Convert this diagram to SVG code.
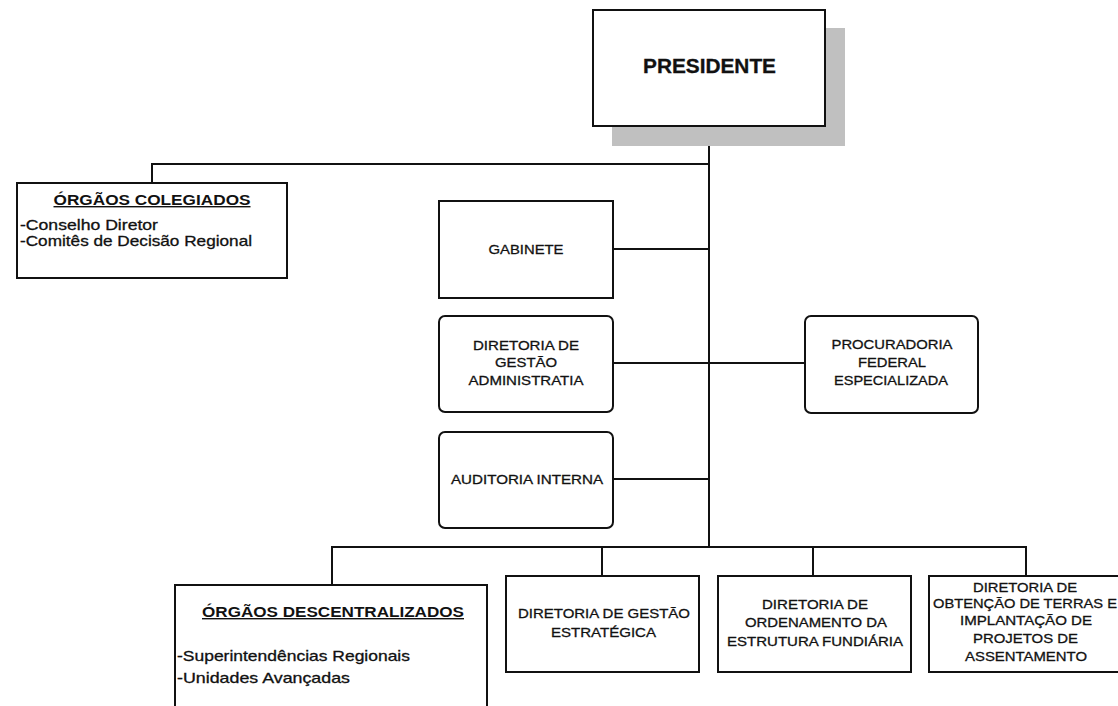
<svg xmlns="http://www.w3.org/2000/svg" width="1118" height="706" viewBox="0 0 1118 706">
<style>
.box{fill:#fff;stroke:#111;stroke-width:2}
.ln{fill:none;stroke:#111;stroke-width:2}
text{font-family:"Liberation Sans",Arial,sans-serif;fill:#111;stroke:#111;stroke-width:0.3}
.t{font-size:13.5px;text-anchor:middle}
.h{font-size:14px;font-weight:bold;text-anchor:middle;text-decoration:underline;stroke-width:0}
.l{font-size:14.5px}
</style>
<rect width="1118" height="706" fill="#fff"/>
<g id="connectors">
<path class="ln" d="M709 146V547M152 183V164H709M613 249H709M613 363H805M613 479H709M332 585V547H1026V576M602 547V576M813 547V576"/>
</g>
<g id="presidente">
<rect x="612" y="28" width="233" height="118" fill="#c0c0c0"/>
<rect class="box" x="593" y="10" width="232" height="116"/>
<text x="709.5" y="73" font-size="20" font-weight="bold" text-anchor="middle" stroke-width="0" textLength="133" lengthAdjust="spacingAndGlyphs">PRESIDENTE</text>
</g>
<g id="orgaos-colegiados">
<rect class="box" x="17" y="183" width="270" height="95"/>
<text class="h" x="152" y="205" textLength="197" lengthAdjust="spacingAndGlyphs">ÓRGÃOS COLEGIADOS</text>
<text class="l" x="20" y="230" textLength="138" lengthAdjust="spacingAndGlyphs">-Conselho Diretor</text>
<text class="l" x="20" y="246" textLength="232" lengthAdjust="spacingAndGlyphs">-Comitês de Decisão Regional</text>
</g>
<g id="gabinete">
<rect class="box" x="439" y="201" width="174" height="97"/>
<text class="t" x="526" y="254" textLength="75" lengthAdjust="spacingAndGlyphs">GABINETE</text>
</g>
<g id="diretoria-gestao-administrativa">
<rect class="box" x="439" y="316" width="174" height="96" rx="6"/>
<text class="t" x="526" y="350" textLength="106" lengthAdjust="spacingAndGlyphs">DIRETORIA DE</text>
<text class="t" x="526" y="367" textLength="62" lengthAdjust="spacingAndGlyphs">GESTÃO</text>
<text class="t" x="526" y="385" textLength="115" lengthAdjust="spacingAndGlyphs">ADMINISTRATIA</text>
</g>
<g id="auditoria-interna">
<rect class="box" x="439" y="432" width="174" height="96" rx="6"/>
<text class="t" x="527" y="484" textLength="152" lengthAdjust="spacingAndGlyphs">AUDITORIA INTERNA</text>
</g>
<g id="procuradoria">
<rect class="box" x="805" y="316" width="173" height="97" rx="6"/>
<text class="t" x="892" y="349" textLength="121" lengthAdjust="spacingAndGlyphs">PROCURADORIA</text>
<text class="t" x="892" y="367" textLength="68" lengthAdjust="spacingAndGlyphs">FEDERAL</text>
<text class="t" x="891" y="385" textLength="114" lengthAdjust="spacingAndGlyphs">ESPECIALIZADA</text>
</g>
<g id="orgaos-descentralizados">
<rect class="box" x="175" y="585" width="312" height="140"/>
<text class="h" x="333" y="617" textLength="262" lengthAdjust="spacingAndGlyphs">ÓRGÃOS DESCENTRALIZADOS</text>
<text class="l" x="177" y="661" textLength="233" lengthAdjust="spacingAndGlyphs">-Superintendências Regionais</text>
<text class="l" x="177" y="683" textLength="173" lengthAdjust="spacingAndGlyphs">-Unidades Avançadas</text>
</g>
<g id="diretoria-gestao-estrategica">
<rect class="box" x="506" y="576" width="193" height="96"/>
<text class="t" x="604" y="618" textLength="172" lengthAdjust="spacingAndGlyphs">DIRETORIA DE GESTÃO</text>
<text class="t" x="603.5" y="637" textLength="105" lengthAdjust="spacingAndGlyphs">ESTRATÉGICA</text>
</g>
<g id="diretoria-ordenamento">
<rect class="box" x="718" y="576" width="193" height="96"/>
<text class="t" x="815" y="609" textLength="106" lengthAdjust="spacingAndGlyphs">DIRETORIA DE</text>
<text class="t" x="816" y="627" textLength="142" lengthAdjust="spacingAndGlyphs">ORDENAMENTO DA</text>
<text class="t" x="815" y="646" textLength="176" lengthAdjust="spacingAndGlyphs">ESTRUTURA FUNDIÁRIA</text>
</g>
<g id="diretoria-obtencao">
<rect class="box" x="929" y="576" width="200" height="96"/>
<text class="t" x="1025" y="592" textLength="104" lengthAdjust="spacingAndGlyphs">DIRETORIA DE</text>
<text class="t" x="1025" y="608" textLength="184" lengthAdjust="spacingAndGlyphs">OBTENÇÃO DE TERRAS E</text>
<text class="t" x="1026" y="625" textLength="132" lengthAdjust="spacingAndGlyphs">IMPLANTAÇÃO DE</text>
<text class="t" x="1025.5" y="643" textLength="105" lengthAdjust="spacingAndGlyphs">PROJETOS DE</text>
<text class="t" x="1026" y="661" textLength="122" lengthAdjust="spacingAndGlyphs">ASSENTAMENTO</text>
</g>
</svg>
